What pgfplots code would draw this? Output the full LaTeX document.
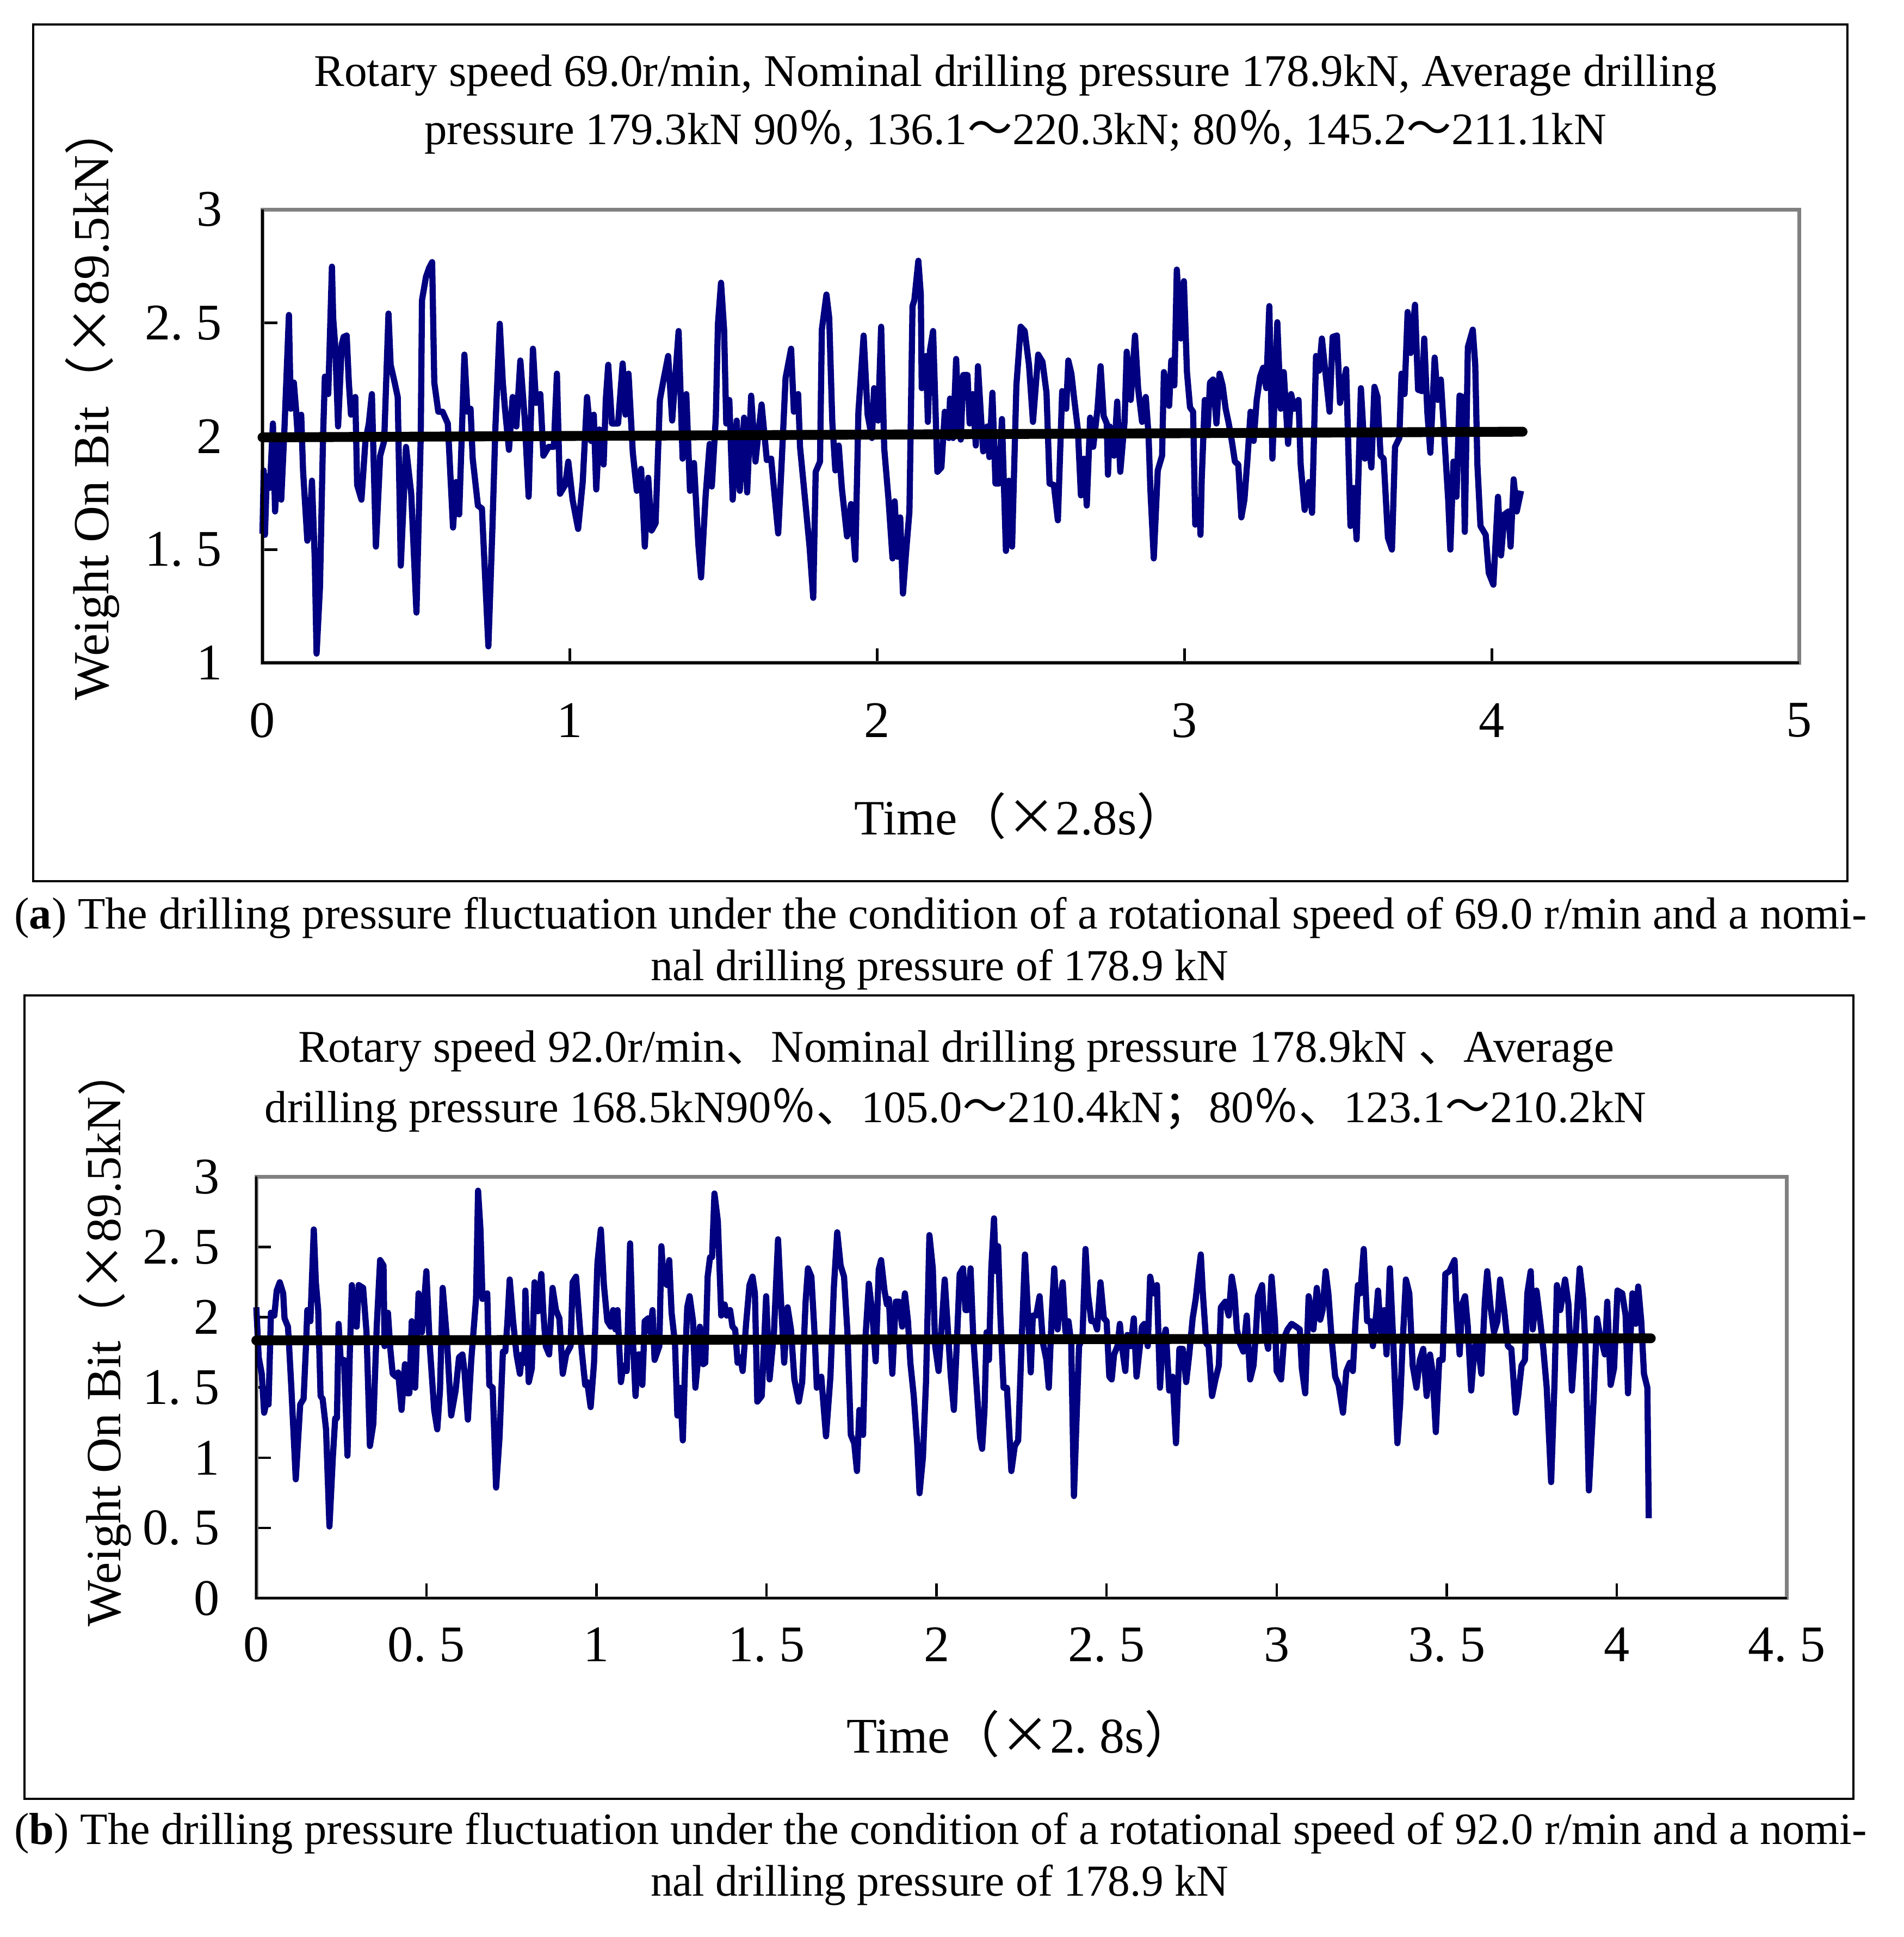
\documentclass[border=0pt]{standalone}
\usepackage{fontspec}
\setmainfont{Liberation Serif}
\newfontfamily\cjk{Noto Sans CJK SC}
\newcommand{\cj}[1]{{\cjk #1}}
\usepackage{graphicx}
\usepackage{pgfplots}
\pgfplotsset{compat=1.18}
\definecolor{navyb}{RGB}{0,0,128}
\definecolor{axgray}{RGB}{128,128,128}
\newcommand{\tf}{\fontsize{12.5}{14}\selectfont}
\newcommand{\hd}[1]{#1.\hspace{0.25em}5}
\pgfplotsset{
  myax/.style={
    scale only axis, anchor=south west, clip=false,
    tick align=inside, xtick pos=lower, ytick pos=left,
    major tick length=3.6pt,
    tick style={black, line width=0.6pt},
    axis line style={draw=axgray, line width=0.9pt},
    ticklabel style={font=\tf},
  }
}
\begin{document}
\begin{tikzpicture}
% ---------- frames ----------
\draw[line width=0.5pt] (8.1pt,-6pt) rectangle (449.7pt,-214.5pt);
\draw[line width=0.5pt] (6pt,-242.4pt) rectangle (451.2pt,-438pt);
% ---------- plot (a) ----------
\begin{axis}[myax, at={(63.9pt,-161.4pt)}, width=374.1pt, height=110.4pt,
  xmin=0, xmax=5, ymin=1, ymax=3,
  xtick={0,1,2,3,4,5}, xticklabels={0,1,2,3,4,5},
  ytick={1,1.5,2,2.5,3}, yticklabels={1,\hd{1},2,\hd{2},3},
  xticklabel style={anchor=north, yshift=-6.3pt},
  yticklabel style={anchor=east, xshift=-6.3pt}]
\addplot[navyb, line width=1.5pt, line join=round] coordinates {
(0,1.57) (0.004,1.849) (0.008,1.565) (0.014,1.823) (0.024,1.772) (0.034,2.056) (0.041,1.668) (0.051,1.966) (0.061,1.720) (0.071,2.017) (0.086,2.535) (0.092,2.121) (0.102,2.237) (0.109,2.121) (0.115,1.992) (0.126,2.095) (0.132,1.849) (0.146,1.539) (0.153,1.590) (0.161,1.804) (0.170,1.461) (0.176,1.041) (0.187,1.332) (0.197,1.992) (0.203,2.263) (0.214,2.186) (0.226,2.748) (0.230,2.522) (0.237,2.393) (0.246,2.043) (0.258,2.406) (0.264,2.438) (0.274,2.444) (0.281,2.237) (0.288,2.095) (0.302,2.173) (0.308,1.785) (0.322,1.720) (0.335,1.979) (0.346,2.056) (0.356,2.186) (0.369,1.513) (0.383,1.914) (0.396,1.979) (0.410,2.541) (0.417,2.315) (0.430,2.237) (0.440,2.173) (0.450,1.429) (0.467,1.953) (0.484,1.746) (0.501,1.222) (0.515,2.005) (0.519,2.600) (0.532,2.703) (0.542,2.742) (0.552,2.768) (0.559,2.237) (0.572,2.108) (0.586,2.108) (0.603,2.056) (0.620,1.597) (0.630,1.798) (0.640,1.655) (0.657,2.360) (0.667,2.108) (0.677,2.121) (0.684,1.901) (0.701,1.694) (0.714,1.681) (0.735,1.073) (0.748,1.591) (0.758,2.043) (0.772,2.496) (0.782,2.237) (0.789,2.121) (0.802,1.940) (0.814,2.173) (0.826,2.043) (0.839,2.334) (0.853,2.082) (0.866,1.733) (0.880,2.386) (0.890,2.147) (0.904,2.186) (0.914,1.914) (0.931,1.953) (0.948,1.953) (0.958,2.276) (0.968,1.746) (0.985,1.785)
(0.995,1.888) (1.009,1.720) (1.027,1.591) (1.042,1.798) (1.056,2.173) (1.069,1.979) (1.078,2.095) (1.086,1.765) (1.096,2.030) (1.110,1.875) (1.117,2.160) (1.125,2.315) (1.137,2.056) (1.157,2.056) (1.172,2.321) (1.181,2.095) (1.191,2.276) (1.205,1.927) (1.218,1.759) (1.232,1.856) (1.244,1.513) (1.255,1.817) (1.266,1.584) (1.279,1.616) (1.293,2.160) (1.306,2.257) (1.320,2.354) (1.333,2.069) (1.354,2.464) (1.367,1.901) (1.379,2.186) (1.391,1.759) (1.404,1.882) (1.418,1.526) (1.427,1.377) (1.442,1.739) (1.455,1.966) (1.462,1.778) (1.475,2.082) (1.482,2.496) (1.492,2.677) (1.502,2.470) (1.509,2.056) (1.519,2.160) (1.530,1.720) (1.543,2.069) (1.553,1.759) (1.567,2.082) (1.577,1.752) (1.590,2.179) (1.604,1.888) (1.612,1.992) (1.624,2.140) (1.641,1.895) (1.655,1.901) (1.678,1.571) (1.689,1.875) (1.702,2.257) (1.720,2.386) (1.729,2.108) (1.743,2.186) (1.749,1.953) (1.766,1.713) (1.780,1.513) (1.792,1.287) (1.800,1.843) (1.814,1.888) (1.820,2.470) (1.835,2.625) (1.844,2.522) (1.854,2.063) (1.864,1.849) (1.875,1.959) (1.885,1.772) (1.902,1.558) (1.915,1.701) (1.929,1.455) (1.939,2.108) (1.956,2.444) (1.969,2.095) (1.983,1.992) (1.990,2.212) (2.003,2.069) (2.013,2.483) (2.023,1.946) (2.037,1.720) (2.050,1.461)
(2.057,1.713) (2.066,1.468) (2.075,1.642) (2.084,1.306) (2.094,1.487) (2.105,1.668) (2.115,2.574) (2.121,2.600) (2.134,2.774) (2.142,2.625) (2.145,2.212) (2.159,2.354) (2.165,2.063) (2.172,2.380) (2.182,2.464) (2.196,1.843) (2.209,1.862) (2.220,2.108) (2.233,1.992) (2.237,2.166) (2.247,1.992) (2.257,2.341) (2.264,2.095) (2.272,1.985) (2.280,2.270) (2.294,2.270) (2.301,2.056) (2.311,2.186) (2.321,1.959) (2.328,2.309) (2.338,2.082) (2.345,1.933) (2.358,2.043) (2.365,1.908) (2.375,2.192) (2.385,1.791) (2.396,1.791) (2.406,2.076) (2.419,1.494) (2.429,1.804) (2.439,1.513) (2.453,2.224) (2.467,2.483) (2.480,2.464) (2.494,2.315) (2.507,2.063) (2.524,2.360) (2.538,2.328) (2.551,2.192) (2.561,1.791) (2.575,1.785) (2.588,1.629) (2.602,2.199) (2.615,2.121) (2.622,2.334) (2.632,2.276) (2.641,2.166) (2.653,2.030) (2.663,1.739) (2.673,1.901) (2.682,1.694) (2.693,2.082) (2.703,1.953) (2.717,2.121) (2.727,2.309) (2.737,2.089) (2.747,2.056) (2.751,1.830) (2.757,2.043) (2.771,1.914) (2.781,2.153) (2.791,1.843) (2.805,2.063) (2.812,2.373) (2.825,2.160) (2.839,2.444) (2.849,2.212) (2.862,2.063) (2.874,2.173) (2.883,2.005) (2.889,1.765) (2.900,1.461) (2.913,1.849) (2.927,1.914) (2.933,2.283) (2.950,2.134) (2.957,2.334) (2.967,2.224) (2.975,2.735) (2.988,2.431) (2.998,2.684) (3.008,2.283) (3.018,2.127) (3.028,2.108) (3.035,1.610) (3.048,1.720) (3.052,1.565)
(3.056,1.810) (3.066,2.160) (3.076,2.043) (3.083,2.237) (3.093,2.250) (3.104,2.056) (3.114,2.276) (3.124,2.224) (3.134,2.121) (3.144,2.056) (3.154,1.979) (3.164,1.888) (3.175,1.875) (3.185,1.642) (3.195,1.720) (3.205,1.901) (3.215,2.108) (3.225,1.979) (3.235,2.160) (3.246,2.263) (3.256,2.302) (3.266,2.212) (3.276,2.574) (3.286,1.901) (3.302,2.503) (3.313,2.121) (3.323,2.283) (3.337,1.966) (3.347,2.186) (3.357,2.121) (3.371,2.160) (3.378,1.875) (3.391,1.675) (3.405,1.798) (3.415,1.662) (3.428,2.354) (3.438,2.289) (3.447,2.431) (3.459,2.276) (3.472,2.108) (3.482,2.438) (3.496,2.444) (3.506,2.147) (3.526,2.296) (3.540,1.604) (3.550,1.772) (3.560,1.545) (3.574,2.212) (3.587,1.901) (3.597,1.992) (3.608,1.862) (3.618,2.218) (3.628,2.173) (3.638,1.914) (3.648,1.901) (3.662,1.552) (3.675,1.500) (3.685,1.953) (3.699,1.992) (3.706,2.276) (3.716,2.186) (3.726,2.548) (3.736,2.367) (3.750,2.580) (3.760,2.205) (3.773,2.199) (3.780,2.431) (3.790,2.108) (3.800,1.927) (3.814,2.347) (3.824,2.160) (3.834,2.250) (3.844,2.030) (3.858,1.720) (3.865,1.500) (3.875,1.888) (3.885,1.733) (3.895,2.179) (3.905,2.173) (3.912,1.578) (3.922,2.393) (3.938,2.470) (3.946,2.315) (3.953,1.875) (3.963,1.604) (3.980,1.565) (3.990,1.397) (4.005,1.345) (4.020,1.733) (4.030,1.474) (4.041,1.655) (4.054,1.668) (4.061,1.513) (4.071,1.810) (4.081,1.668) (4.095,1.759)
};
\addplot[black, line width=2.4pt, line cap=round] coordinates {(0,1.995) (4.1,2.02)};
\draw[black, line width=0.6pt] (rel axis cs:0,1) -- (rel axis cs:0,0) -- (rel axis cs:1,0);
\end{axis}
% ---------- plot (b) ----------
\begin{axis}[myax, at={(62.4pt,-389.1pt)}, width=372.6pt, height=102.6pt,
  xmin=0, xmax=4.5, ymin=0, ymax=3,
  xtick={0,0.5,1,1.5,2,2.5,3,3.5,4,4.5},
  xticklabels={0,\hd{0},1,\hd{1},2,\hd{2},3,\hd{3},4,\hd{4}},
  ytick={0,0.5,1,1.5,2,2.5,3}, yticklabels={0,\hd{0},1,\hd{1},2,\hd{2},3},
  xticklabel style={anchor=north, yshift=-3.6pt},
  yticklabel style={anchor=east, xshift=-5.4pt}]
\addplot[navyb, line width=1.5pt, line join=round] coordinates {
(0,2.071) (0.007,1.715) (0.016,1.597) (0.023,1.320) (0.030,1.399) (0.036,1.379) (0.043,2.032) (0.053,2.012) (0.060,2.190) (0.069,2.249) (0.079,2.170) (0.083,1.992) (0.093,1.933) (0.096,1.814) (0.103,1.498) (0.116,0.846) (0.129,1.379) (0.139,1.419) (0.146,1.794) (0.150,2.051) (0.159,1.972) (0.169,2.625) (0.175,2.249) (0.182,2.051) (0.189,1.439) (0.195,1.419) (0.205,1.202) (0.215,0.510) (0.225,1.004) (0.232,1.281) (0.237,1.281) (0.242,1.953) (0.248,1.696) (0.258,1.696) (0.268,1.014) (0.275,1.755) (0.281,2.229) (0.288,1.943) (0.295,1.933) (0.301,2.229) (0.314,2.209) (0.324,1.893) (0.334,1.083) (0.344,1.241) (0.354,1.933) (0.364,2.407) (0.374,2.368) (0.377,1.794) (0.387,2.032) (0.394,1.775) (0.401,1.597) (0.411,1.577) (0.417,1.607) (0.427,1.340) (0.437,1.666) (0.444,1.458) (0.450,1.458) (0.457,1.972) (0.467,1.498) (0.477,2.170) (0.487,1.893) (0.500,2.328) (0.510,1.794) (0.523,1.340) (0.532,1.202) (0.540,1.478) (0.548,2.209) (0.560,1.854) (0.573,1.300) (0.586,1.478) (0.596,1.715) (0.606,1.735) (0.612,1.617) (0.622,1.271) (0.632,1.696) (0.646,2.130) (0.652,2.901) (0.659,2.625) (0.665,2.130) (0.679,2.170) (0.685,1.518) (0.695,1.498) (0.705,0.787) (0.715,1.142) (0.725,1.755) (0.732,1.755) (0.738,1.953) (0.745,2.269) (0.755,1.972) (0.765,1.735) (0.775,1.597) (0.781,1.735) (0.788,1.676) (0.791,2.190) (0.801,1.538) (0.810,1.636) (0.818,2.249) (0.828,2.042) (0.838,2.308) (0.844,2.032) (0.851,1.794) (0.861,1.735) (0.871,2.209) (0.881,2.051) (0.891,1.992) (0.901,1.597) (0.911,1.735) (0.924,1.794) (0.930,2.249) (0.940,2.289) (0.950,1.972) (0.957,1.755) (0.967,1.518) (0.973,1.538) (0.983,1.360) (0.993,1.676) (1.003,2.387) (1.013,2.625)
(1.022,2.229) (1.032,1.972) (1.042,1.933) (1.049,2.051) (1.056,1.913) (1.062,2.051) (1.072,1.538) (1.079,1.656) (1.089,1.617) (1.099,2.526) (1.108,1.794) (1.115,1.439) (1.122,1.735) (1.128,1.735) (1.135,1.518) (1.142,1.972) (1.152,1.992) (1.158,1.893) (1.165,2.051) (1.171,1.696) (1.185,1.794) (1.191,2.506) (1.198,2.249) (1.208,2.229) (1.214,2.407) (1.221,2.032) (1.231,1.814) (1.238,1.300) (1.246,1.498) (1.254,1.123) (1.261,1.696) (1.267,2.071) (1.274,2.150) (1.284,1.972) (1.291,1.498) (1.297,1.656) (1.304,1.933) (1.314,1.666) (1.320,1.676) (1.327,2.289) (1.334,2.427) (1.340,2.427) (1.347,2.881) (1.357,2.684) (1.367,2.012) (1.377,2.091) (1.383,2.012) (1.393,2.051) (1.400,1.933) (1.408,1.913) (1.415,1.676) (1.423,1.715) (1.430,1.617) (1.440,1.953) (1.450,2.229) (1.459,2.289) (1.466,2.170) (1.473,1.399) (1.486,1.439) (1.499,2.150) (1.509,1.557) (1.522,1.893) (1.534,2.555) (1.542,2.150) (1.552,1.676) (1.562,2.071) (1.572,1.913) (1.582,1.557) (1.595,1.399) (1.605,1.538) (1.615,2.111) (1.622,2.348) (1.632,2.289) (1.642,1.854) (1.648,1.498) (1.661,1.577) (1.675,1.152) (1.688,1.577) (1.698,2.209) (1.708,2.605) (1.718,2.368) (1.728,2.289) (1.738,1.893) (1.748,1.162) (1.758,1.103) (1.766,0.905) (1.773,1.340) (1.784,1.162) (1.791,1.854) (1.801,2.239) (1.811,2.032) (1.821,1.686) (1.830,2.338) (1.837,2.407) (1.847,2.190) (1.854,2.091) (1.860,2.130) (1.870,1.597) (1.880,2.111) (1.890,2.111) (1.899,1.933) (1.907,2.170) (1.916,1.972) (1.923,1.676) (1.933,1.439) (1.943,1.103) (1.950,0.747) (1.960,1.004) (1.969,1.538) (1.979,2.585) (1.989,2.348) (1.996,1.794) (2.006,1.617) (2.016,1.972) (2.024,2.269)
(2.042,1.577) (2.051,1.340) (2.061,1.893) (2.068,2.308) (2.078,2.348) (2.085,2.051) (2.091,2.051) (2.100,2.348) (2.108,1.854) (2.118,1.498) (2.128,1.142) (2.134,1.063) (2.141,1.340) (2.147,1.893) (2.154,1.696) (2.161,2.348) (2.169,2.704) (2.174,2.328) (2.181,2.506) (2.187,2.051) (2.197,1.498) (2.207,1.498) (2.220,0.905) (2.230,1.083) (2.240,1.123) (2.250,1.814) (2.260,2.447) (2.270,1.972) (2.277,1.607) (2.283,2.012) (2.293,2.012) (2.303,2.150) (2.313,1.814) (2.323,1.696) (2.330,1.498) (2.339,2.032) (2.346,2.348) (2.356,1.913) (2.363,2.111) (2.371,2.249) (2.379,1.893) (2.388,1.972) (2.396,1.814) (2.404,0.727) (2.412,1.300) (2.419,1.794) (2.429,1.854) (2.438,2.486) (2.445,2.170) (2.455,1.972) (2.465,1.972) (2.472,1.913) (2.482,2.249) (2.492,1.992) (2.500,1.972) (2.508,1.577) (2.515,1.557) (2.522,1.735) (2.532,1.794) (2.539,1.953) (2.545,1.794) (2.555,1.617) (2.561,1.874) (2.571,1.794) (2.580,1.992) (2.588,1.577) (2.598,1.794) (2.604,1.933) (2.611,1.953) (2.621,1.794) (2.628,2.289) (2.638,2.170) (2.648,2.229) (2.657,1.498) (2.664,1.814) (2.674,1.913) (2.684,1.478) (2.694,1.577) (2.704,1.103) (2.714,1.775) (2.724,1.775) (2.734,1.538) (2.743,1.735) (2.753,1.992) (2.762,2.130) (2.770,2.308) (2.777,2.447) (2.783,2.170) (2.793,1.814) (2.800,1.794) (2.810,1.439) (2.820,1.557) (2.830,1.656) (2.836,2.071) (2.849,2.111) (2.859,2.012) (2.868,2.289) (2.876,2.170) (2.883,1.913) (2.892,1.814) (2.902,1.755) (2.912,2.012) (2.922,1.557) (2.932,1.656) (2.939,1.893) (2.945,2.150) (2.957,2.229) (2.965,1.893) (2.975,1.775) (2.985,2.289) (2.995,1.972) (3.000,1.617) (3.013,1.557) (3.022,1.854) (3.032,1.913)
(3.044,1.953) (3.057,1.933) (3.068,1.913) (3.074,1.636) (3.084,1.458) (3.094,2.150) (3.101,2.051) (3.108,1.913) (3.118,2.209) (3.128,1.982) (3.135,2.051) (3.144,2.328) (3.152,2.170) (3.162,1.834) (3.172,1.577) (3.182,1.518) (3.195,1.320) (3.205,1.617) (3.215,1.676) (3.224,1.617) (3.232,1.972) (3.239,2.229) (3.246,2.170) (3.256,2.486) (3.266,1.972) (3.276,1.972) (3.283,1.794) (3.293,2.032) (3.298,2.190) (3.306,1.893) (3.316,2.051) (3.323,1.735) (3.333,2.348) (3.343,1.814) (3.355,1.103) (3.363,1.379) (3.370,1.794) (3.380,2.269) (3.390,2.170) (3.400,1.656) (3.411,1.498) (3.421,1.696) (3.431,1.775) (3.441,1.439) (3.451,1.735) (3.458,1.617) (3.468,1.182) (3.478,1.696) (3.488,1.696) (3.496,2.308) (3.508,2.328) (3.523,2.407) (3.528,2.111) (3.538,1.735) (3.545,2.091) (3.554,2.150) (3.562,1.933) (3.572,1.478) (3.582,1.794) (3.592,1.794) (3.602,1.597) (3.612,2.111) (3.619,2.328) (3.629,2.071) (3.639,1.893) (3.649,1.972) (3.657,2.269) (3.669,2.051) (3.680,1.794) (3.690,1.775) (3.703,1.320) (3.710,1.439) (3.720,1.656) (3.730,1.696) (3.737,2.170) (3.747,2.328) (3.753,1.913) (3.764,2.190) (3.774,1.992) (3.784,1.775) (3.794,1.498) (3.807,0.826) (3.817,1.538) (3.824,2.229) (3.834,2.051) (3.848,2.269) (3.858,2.091) (3.868,1.478) (3.878,1.834) (3.891,2.348) (3.901,2.130) (3.908,1.794) (3.918,0.767) (3.932,1.419) (3.942,1.992) (3.949,1.893) (3.959,1.794) (3.965,1.735) (3.972,2.111) (3.982,1.518) (3.992,1.636) (4.002,2.190) (4.016,2.170) (4.026,2.012) (4.033,1.458) (4.046,2.170) (4.056,1.953) (4.063,2.219) (4.072,1.972) (4.080,1.597) (4.090,1.498) (4.094,0.569)
};
\addplot[black, line width=2.4pt, line cap=round] coordinates {(0,1.835) (4.1,1.85)};
\draw[black, line width=0.6pt] (rel axis cs:0,1) -- (rel axis cs:0,0) -- (rel axis cs:1,0);
\end{axis}
% ---------- texts (a) ----------
\node at (247.2pt,-18.3pt) {\resizebox{341.4pt}{!}{Rotary speed 69.0r/min, Nominal drilling pressure 178.9kN, Average drilling}};
\node at (247.2pt,-32.1pt) {\resizebox{287.7pt}{!}{pressure 179.3kN 90\cj{％}, 136.1\cj{～}220.3kN; 80\cj{％}, 145.2\cj{～}211.1kN}};
\node[rotate=90] at (22.5pt,-97.95pt) {\resizebox{145pt}{!}{Weight On Bit\cj{（×}89.5kN\cj{）}}};
\node at (248.4pt,-198.6pt) {\resizebox{80.7pt}{!}{Time\cj{（×}2.8s\cj{）}}};
\node at (229pt,-223.5pt) {\resizebox{451pt}{!}{(\textbf{a}) The drilling pressure fluctuation under the condition of a rotational speed of 69.0 r/min and a nomi-}};
\node at (228.75pt,-236.1pt) {\resizebox{140.7pt}{!}{nal drilling pressure of 178.9 kN}};
% ---------- texts (b) ----------
\node at (232.8pt,-255.9pt) {\resizebox{320.4pt}{!}{Rotary speed 92.0r/min\cj{、}Nominal drilling pressure 178.9kN \cj{、}Average}};
\node at (232.65pt,-270.3pt) {\resizebox{336.3pt}{!}{drilling pressure 168.5kN90\cj{％、}105.0\cj{～}210.4kN\cj{；}80\cj{％、}123.1\cj{～}210.2kN}};
\node[rotate=90] at (25.5pt,-325.5pt) {\resizebox{141pt}{!}{Weight On Bit\cj{（×}89.5kN\cj{）}}};
\node at (248.4pt,-422.1pt) {\resizebox{84.6pt}{!}{Time\cj{（×}2.\hspace{0.25em}8s\cj{）}}};
\node at (229pt,-446.4pt) {\resizebox{451pt}{!}{(\textbf{b}) The drilling pressure fluctuation under the condition of a rotational speed of 92.0 r/min and a nomi-}};
\node at (228.75pt,-459pt) {\resizebox{140.7pt}{!}{nal drilling pressure of 178.9 kN}};
\pgfresetboundingbox
\useasboundingbox (0pt,0pt) rectangle (463.5pt,-471.6pt);
\end{tikzpicture}
\end{document}
